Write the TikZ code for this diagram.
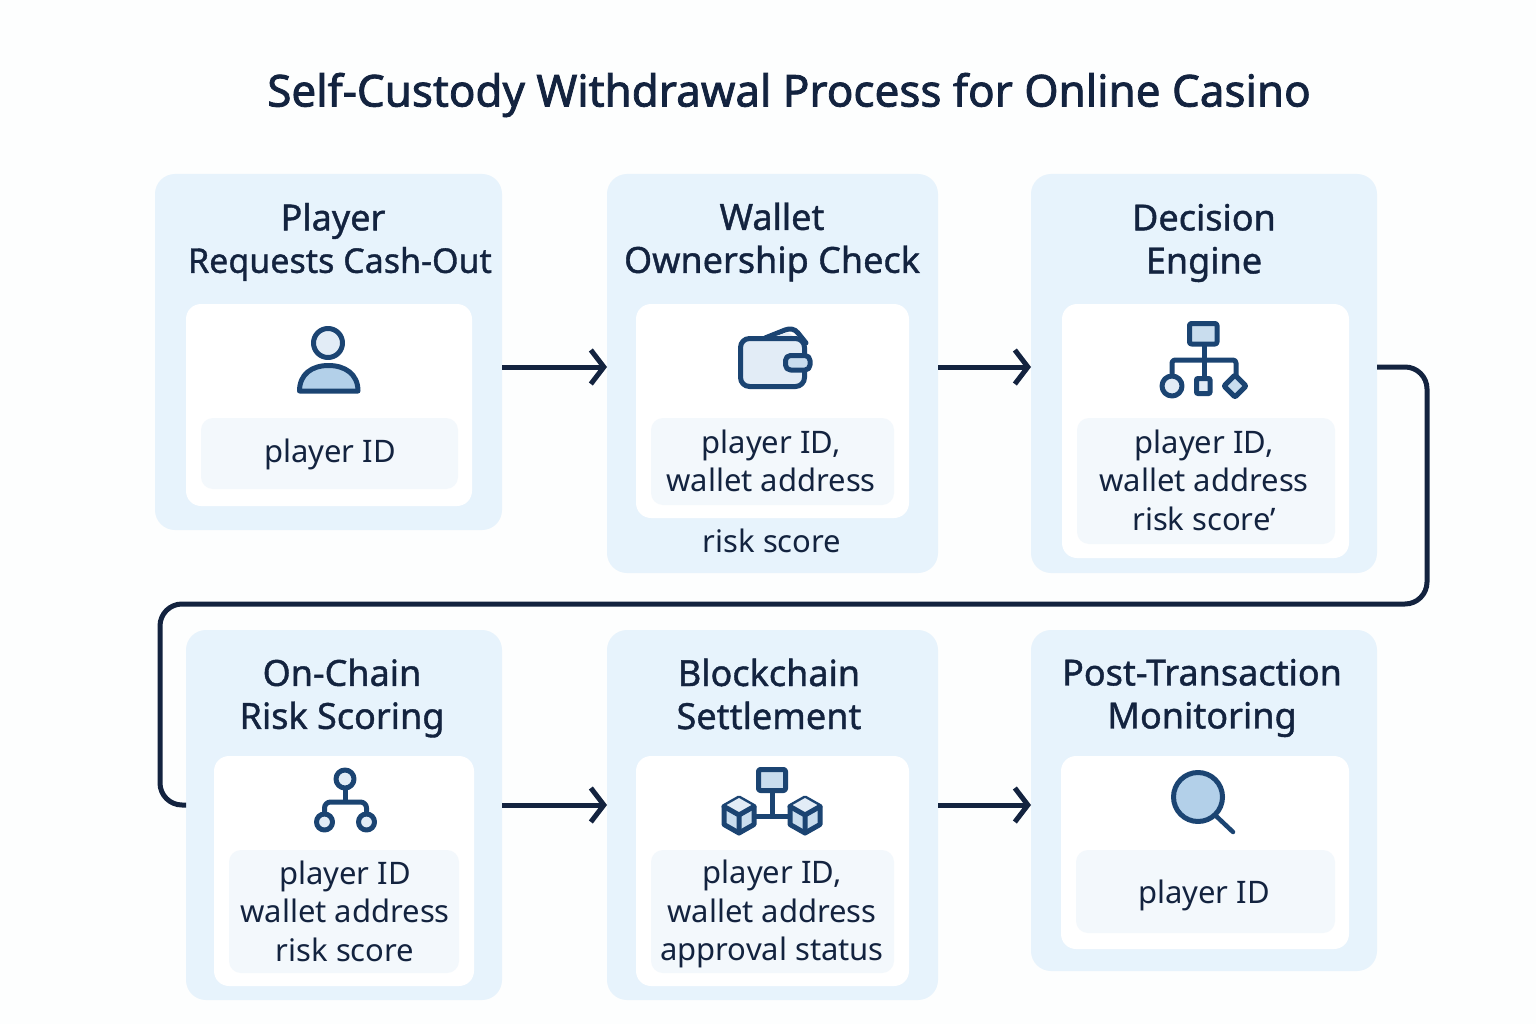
\documentclass[tikz,border=0pt]{standalone}
\usepackage{fontspec}
\setmainfont{Noto Sans}
\newfontfamily\medfont[FakeBold=1.1]{Noto Sans}
\newfontfamily\titlefont[FakeBold=1.8]{Noto Sans}
\usetikzlibrary{arrows.meta}
\definecolor{bgc}{HTML}{FDFEFE}
\definecolor{cardc}{HTML}{E7F3FC}
\definecolor{panelc}{HTML}{F3F8FC}
\definecolor{inkc}{HTML}{13233F}
\definecolor{iconc}{HTML}{1B4472}
\definecolor{lightc}{HTML}{E2ECF6}
\definecolor{midc}{HTML}{C9DDEE}
\definecolor{bluec}{HTML}{B3D0E9}
\tikzset{
  x=1pt,y=-1pt,
  box/.style={draw=none,inner sep=0pt,outer sep=0pt,rounded corners=#1},
  cardbox/.style={box=20pt,fill=cardc},
  whitebox/.style={box=15pt,fill=white},
  panelbox/.style={box=12pt,fill=panelc},
  headtext/.style={text=inkc,align=center,inner sep=0pt,font=\medfont\fontsize{36}{43}\selectfont},
  narrowhead/.style={text=inkc,align=center,inner sep=0pt,font=\medfont\fontsize{34}{43}\selectfont},
  datatext/.style={text=inkc,align=center,inner sep=0pt,font=\fontsize{31}{38.5}\selectfont},
  titletext/.style={text=inkc,inner sep=0pt,font=\titlefont\fontsize{44}{50}\selectfont},
  flow/.style={draw=inkc,line width=5pt,-{Straight Barb[length=13pt,width=34pt,line width=5pt]}},
  snake/.style={draw=inkc,line width=5pt,rounded corners=22pt},
  ico/.style={draw=iconc,line width=5pt,line join=round,line cap=round},
}
\newcommand{\rbox}[6]{% name, style, x1, y1, x2, y2
  \path[#2] (#3,#4) rectangle (#5,#6);
  \coordinate (#1-w) at (#3,{(#4+#6)/2});
  \coordinate (#1-e) at (#5,{(#4+#6)/2});
}
\begin{document}
\begin{tikzpicture}
\useasboundingbox (0,0) rectangle (1536,1024);
\fill[bgc] (0,0) rectangle (1536,1024);

\node[titletext] (title) at (789,95) {Self-Custody Withdrawal Process for Online Casino};

% cards
\rbox{c1}{cardbox}{155}{174}{502}{530}
\rbox{c2}{cardbox}{607}{174}{938}{573}
\rbox{c3}{cardbox}{1031}{174}{1377}{573}
\rbox{c4}{cardbox}{186}{630}{502}{1000}
\rbox{c5}{cardbox}{607}{630}{938}{1000}
\rbox{c6}{cardbox}{1031}{630}{1377}{971}
% white panels
\rbox{w1}{whitebox}{186}{304}{472}{506}
\rbox{w2}{whitebox}{636}{304}{909}{518}
\rbox{w3}{whitebox}{1062}{304}{1349}{558}
\rbox{w4}{whitebox}{214}{756}{474}{986}
\rbox{w5}{whitebox}{636}{756}{909}{986}
\rbox{w6}{whitebox}{1061}{756}{1349}{949}
% data panels
\rbox{p1}{panelbox}{201}{418}{458}{489}
\rbox{p2}{panelbox}{651}{418}{894}{505}
\rbox{p3}{panelbox}{1077}{418}{1335}{544}
\rbox{p4}{panelbox}{229}{850}{459}{973}
\rbox{p5}{panelbox}{651}{850}{894}{973}
\rbox{p6}{panelbox}{1076}{850}{1335}{933}

% headings
\node[headtext] (h1a) at (333,221) {Player};
\node[narrowhead] (h1b) at (340,264) {Requests Cash-Out};
\node[headtext] (h2) at (772,242) {Wallet\\Ownership Check};
\node[headtext] (h3) at (1204,243) {Decision\\Engine};
\node[headtext] (h4) at (342,698) {On-Chain\\Risk Scoring};
\node[headtext] (h5) at (769,694) {Blockchain\\Settlement};
\node[headtext] (h6) at (1202,698) {Post-Transaction\\Monitoring};

% data
\node[datatext] (d1) at (330,454) {player ID};
\node[datatext] (d2) at (771,461) {player ID,\\wallet address};
\node[datatext] (d2b) at (772,541) {risk score};
\node[datatext] (d3) at (1204,480) {player ID,\\wallet address\\risk score'};
\node[datatext] (d4) at (345,911) {player ID\\wallet address\\risk score};
\node[datatext] (d5) at (772,914) {player ID,\\wallet address\\approval status};
\node[datatext] (d6) at (1204,895) {player ID};

% connectors
\coordinate (a1) at (555,367);
\coordinate (a2) at (985,367);
\coordinate (a4) at (555,805);
\coordinate (a5) at (985,805);
\coordinate (s1) at (1427,367);
\coordinate (s2) at (1427,604);
\coordinate (s3) at (160,604);
\coordinate (s4) at (160,805);
\draw[flow] (c1-e |- a1) -- (c2-w |- a1);
\draw[flow] (c2-e |- a2) -- (c3-w |- a2);
\draw[flow] (c4-e |- a4) -- (c5-w |- a4);
\draw[flow] (c5-e |- a5) -- (c6-w |- a5);
\draw[snake] (c3-e |- s1) -- (s1) -- (s2) -- (s3) -- (s4) -- (c4-w |- s4);

% person icon
\draw[ico,fill=lightc] (328,343) circle[radius=14.5];
\draw[ico,fill=bluec] (299.5,391) .. controls (299.5,374) and (312,365.5) .. (328.5,365.5) .. controls (345,365.5) and (358,374) .. (358,391) -- cycle;

% wallet icon
\draw[ico,fill=white] (765,338) -- (785,330) .. controls (790,328) and (795,329) .. (798,333) -- (806,343);
\fill[lightc] (776,336) -- (788,332.5) -- (793,336) -- cycle;
\draw[ico,fill=lightc,rounded corners=9pt] (740.5,338.5) rectangle (804.5,386.5);
\draw[ico,fill=midc,rounded corners=5pt] (785.5,355.5) rectangle (810,370);

% decision icon
\draw[ico,line cap=butt] (1204,344) -- (1204,378);
\draw[ico,line cap=butt,rounded corners=3pt] (1172,376) -- (1172,360) -- (1236,360) -- (1236,376);
\draw[ico,fill=midc,rounded corners=2pt] (1189.5,323.5) rectangle (1217,344);
\draw[ico,fill=lightc] (1172,386) circle[radius=10];
\draw[ico,fill=lightc,rounded corners=1pt] (1196.5,378.5) rectangle (1210,393.5);
\draw[ico,fill=midc,rounded corners=1pt] (1235,375) -- (1246,386) -- (1235,397) -- (1224,386) -- cycle;

% risk icon
\draw[ico,line cap=butt] (345,788) -- (345,802);
\draw[ico,line cap=butt,rounded corners=6pt] (324.5,815) -- (324.5,802) -- (366.5,802) -- (366.5,815);
\draw[ico,fill=lightc] (345,779) circle[radius=9];
\draw[ico,fill=lightc] (324.5,822) circle[radius=8];
\draw[ico,fill=lightc] (366.5,822) circle[radius=8];

% blockchain icon
\draw[ico,line cap=butt] (772,791) -- (772,816);
\draw[ico,line cap=butt] (752,816) -- (792,816);
\draw[ico,fill=midc,rounded corners=2pt] (758.5,769.5) rectangle (785.5,790.5);
\foreach \cx in {739,805}{
  \draw[ico,fill=midc] (\cx,798) -- (\cx+15,806.5) -- (\cx+15,824.5) -- (\cx,833) -- (\cx-15,824.5) -- (\cx-15,806.5) -- cycle;
  \fill[lightc] (\cx,798) -- (\cx+15,806.5) -- (\cx,815) -- (\cx-15,806.5) -- cycle;
  \draw[ico,line width=5pt] (\cx-15,806.5) -- (\cx,815) -- (\cx+15,806.5) (\cx,815) -- (\cx,833);
}

% magnifier icon
\draw[ico,line width=4.5pt] (1215,815) -- (1233,832);
\draw[ico,line width=5pt,fill=bluec] (1198,797) circle[radius=24.5];
\end{tikzpicture}
\end{document}
